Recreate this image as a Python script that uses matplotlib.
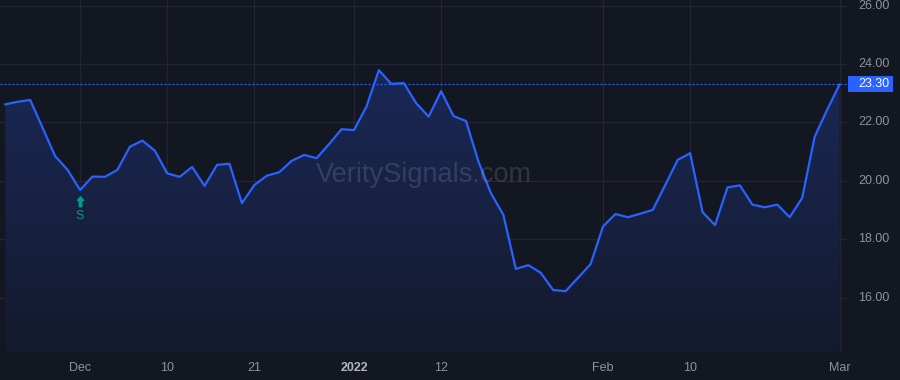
import matplotlib
matplotlib.use("Agg")
import matplotlib.pyplot as plt
import matplotlib.transforms as mtransforms
import numpy as np
import pandas as pd
from matplotlib.patches import Polygon
from matplotlib.path import Path
from matplotlib.colors import LinearSegmentedColormap

# ---- data ----
holidays = ["2021-11-25", "2021-12-24", "2022-01-17", "2022-02-21"]
dates = pd.bdate_range("2021-11-22", "2022-03-01", freq="C", holidays=holidays)
values = [22.62, 22.71, 22.77, 21.81, 20.85, 20.38, 19.69, 20.15, 20.14, 20.38,
          21.17, 21.38, 21.04, 20.26, 20.14, 20.48, 19.83, 20.55, 20.59, 19.24,
          19.86, 20.18, 20.30, 20.69, 20.89, 20.78, 21.26, 21.77, 21.74, 22.54,
          23.79, 23.32, 23.35, 22.66, 22.20, 23.07, 22.22, 22.05, 20.66, 19.58,
          18.84, 16.99, 17.12, 16.86, 16.27, 16.23, 16.69, 17.15, 18.44, 18.87,
          18.76, 18.88, 19.01, 19.86, 20.72, 20.95, 18.93, 18.49, 19.78, 19.85,
          19.19, 19.10, 19.19, 18.76, 19.42, 21.51, 22.43, 23.30]
tick_dates = ["2021-12-01", "2021-12-10", "2021-12-21", "2022-01-03",
              "2022-01-12", "2022-02-01", "2022-02-10", "2022-03-01"]
tick_labels = ["Dec", "10", "21", "2022", "12", "Feb", "10", "Mar"]
y_ticks = [16, 18, 20, 22, 24, 26]
last_price = 23.30
signal_date = "2021-12-01"
signal_label = "S"

# ---- style ----
BG = "#131722"
GRID = "#232632"
LINE = "#2962ff"
TXT = "#8f929b"
SIG = "#089981"
plt.rcParams["font.family"] = ["Liberation Sans", "DejaVu Sans"]

W, H = 900, 380
fig = plt.figure(figsize=(9, 3.8), dpi=100, facecolor=BG)
ax = fig.add_axes([0, 28 / H, 847 / W, 352 / H], facecolor=BG)

x = np.arange(len(values))
y = np.array(values)
ymin, ymax = 14.15, 26.19
ax.set_xlim(-0.43, 67.6)
ax.set_ylim(ymin, ymax)

# gradient fill under the line
verts = [(x[0], ymin)] + list(zip(x, y)) + [(x[-1], ymin)]
poly = Polygon(verts, closed=True, facecolor="none", edgecolor="none")
ax.add_patch(poly)
grad = np.linspace(0, 1, 256).reshape(-1, 1)
cmap = LinearSegmentedColormap.from_list("g", ["#141a2d", "#1a2856"])
im = ax.imshow(grad, aspect="auto", cmap=cmap, origin="lower",
               extent=[x[0], x[-1], ymin, y.max()], zorder=1)
im.set_clip_path(poly)

ax.plot(x, y, color=LINE, lw=1.6, zorder=3)

# grid
date_index = {d.strftime("%Y-%m-%d"): i for i, d in enumerate(dates)}
tick_pos = [date_index[d] for d in tick_dates]
for t in y_ticks:
    ax.axhline(t, color=GRID, lw=1, zorder=0)
for p in tick_pos:
    ax.axvline(p, color=GRID, lw=1, zorder=0)

# last price dotted line
ax.axhline(last_price, color=LINE, lw=0.9, ls=(0, (1.6, 1.6)), zorder=2)

for s in ax.spines.values():
    s.set_visible(False)
ax.set_xticks([])
ax.set_yticks([])

# x tick labels
for p, lab in zip(tick_pos, tick_labels):
    bold = lab == "2022"
    ax.text(p, -0.045, lab, transform=ax.get_xaxis_transform(), ha="center", va="center",
            fontsize=9, color="#b2b5be" if bold else TXT,
            fontweight="bold" if bold else "normal")

# y tick labels on right
ylab_trans = ax.get_yaxis_transform()
for t in y_ticks:
    ax.text(858 / 847, t, f"{t:.2f}", transform=ylab_trans, ha="left", va="center",
            fontsize=9, color=TXT, clip_on=False)

# last-price label box
half = 8 / (352 / (ymax - ymin))
ax.add_patch(plt.Rectangle((848 / 847, last_price - half), 45 / 847, 2 * half,
                           transform=ylab_trans, fc=LINE, ec="none", clip_on=False, zorder=1))
ax.text(858 / 847, last_price, f"{last_price:.2f}", transform=ylab_trans, ha="left",
        va="center", fontsize=9, color="white", clip_on=False, zorder=2)

# signal marker: thick up arrow + label
arrow = Path([(-0.2, -1), (0.2, -1), (0.2, 0), (0.5, 0), (0, 0.6), (-0.5, 0),
              (-0.2, 0), (-0.2, -1)], closed=True)
si = date_index[signal_date]
ax.plot([si], [values[si]], marker=arrow, markersize=9, color=SIG, ls="none",
        transform=ax.transData + mtransforms.ScaledTranslation(0, -10 / 100, fig.dpi_scale_trans),
        zorder=4)
ax.annotate(signal_label, xy=(si, values[si]), xytext=(0, -26 * 0.72),
            textcoords="offset points", ha="center", va="center", fontsize=9, color=SIG)

# watermark
ax.text(0.5, (20.2 - ymin) / (ymax - ymin), "VeritySignals.com", transform=ax.transAxes,
        ha="center", va="center", fontsize=19.5, color="#ffffff", alpha=0.13, zorder=5)

fig.savefig("out.png", dpi=100, facecolor=BG)
